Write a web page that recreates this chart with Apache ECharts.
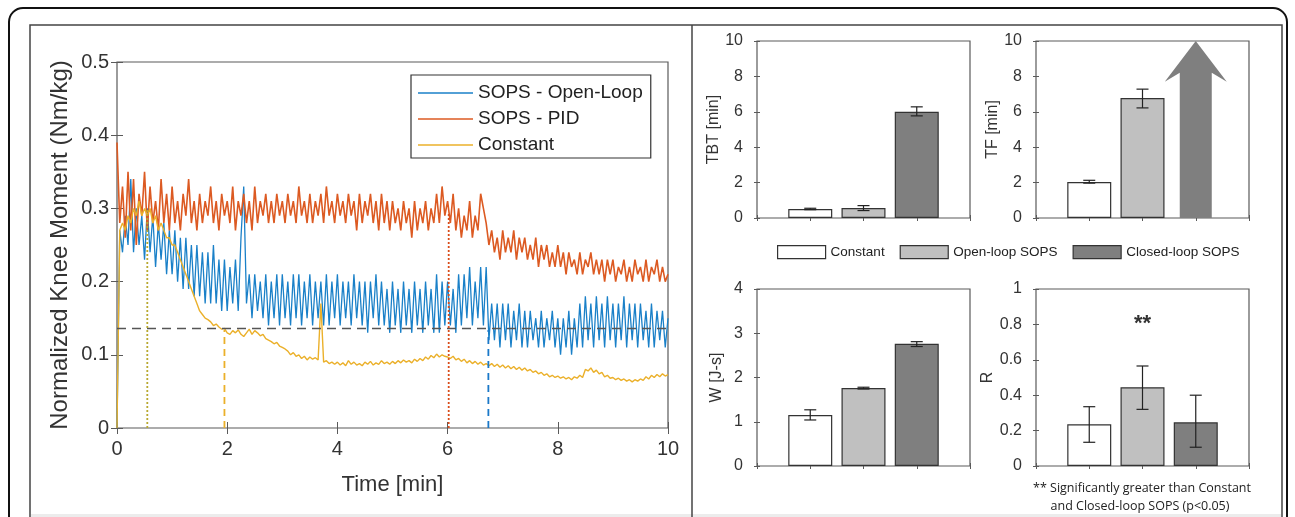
<!DOCTYPE html>
<html>
<head>
<meta charset="utf-8">
<script src="https://cdn.jsdelivr.net/npm/echarts@6/dist/echarts.min.js"></script>
<style>
  html, body { margin: 0; padding: 0; background: #fff; }
  #chart { width: 1295px; height: 517px; }
</style>
</head>
<body>
<div id="chart"></div>
<script>
// sampling step of the moment traces (min)
const timeStep = 0.05;

// SOPS - Open-Loop
const openLoopMoment = [
  0.00, 0.27, 0.24, 0.29, 0.25, 0.34, 0.24, 0.30, 0.25, 0.29, 0.23, 0.30, 0.24, 0.29, 0.22, 0.28, 0.23, 0.28, 0.21, 0.27,
  0.21, 0.27, 0.20, 0.26, 0.19, 0.26, 0.19, 0.25, 0.18, 0.25, 0.18, 0.24, 0.17, 0.24, 0.17, 0.25, 0.17, 0.23, 0.16, 0.23,
  0.16, 0.22, 0.17, 0.23, 0.16, 0.26, 0.33, 0.17, 0.21, 0.15, 0.21, 0.16, 0.20, 0.15, 0.21, 0.14, 0.20, 0.15, 0.21, 0.14,
  0.21, 0.15, 0.20, 0.14, 0.21, 0.15, 0.21, 0.14, 0.20, 0.15, 0.21, 0.14, 0.20, 0.15, 0.20, 0.14, 0.21, 0.14, 0.20, 0.15,
  0.21, 0.14, 0.20, 0.15, 0.20, 0.14, 0.21, 0.15, 0.20, 0.14, 0.20, 0.13, 0.20, 0.15, 0.21, 0.14, 0.20, 0.14, 0.19, 0.13,
  0.20, 0.14, 0.19, 0.13, 0.20, 0.14, 0.19, 0.13, 0.20, 0.14, 0.19, 0.13, 0.20, 0.14, 0.19, 0.13, 0.21, 0.13, 0.20, 0.14,
  0.20, 0.14, 0.19, 0.13, 0.21, 0.14, 0.21, 0.15, 0.22, 0.14, 0.20, 0.15, 0.22, 0.14, 0.22, 0.12, 0.17, 0.12, 0.17, 0.11,
  0.17, 0.12, 0.17, 0.11, 0.16, 0.12, 0.17, 0.11, 0.16, 0.11, 0.16, 0.12, 0.15, 0.11, 0.16, 0.11, 0.15, 0.12, 0.16, 0.11,
  0.15, 0.10, 0.15, 0.11, 0.16, 0.10, 0.15, 0.11, 0.17, 0.11, 0.18, 0.12, 0.17, 0.11, 0.18, 0.12, 0.17, 0.11, 0.18, 0.12,
  0.17, 0.11, 0.17, 0.12, 0.18, 0.11, 0.17, 0.12, 0.17, 0.11, 0.17, 0.12, 0.16, 0.11, 0.17, 0.11, 0.16, 0.12, 0.16, 0.11, 0.15
];

// SOPS - PID
const pidMoment = [
  0.39, 0.28, 0.33, 0.26, 0.35, 0.27, 0.34, 0.25, 0.32, 0.29, 0.35, 0.27, 0.33, 0.28, 0.31, 0.27, 0.34, 0.28, 0.32, 0.27,
  0.33, 0.28, 0.31, 0.27, 0.32, 0.29, 0.34, 0.28, 0.31, 0.27, 0.32, 0.28, 0.31, 0.29, 0.33, 0.28, 0.31, 0.27, 0.32, 0.29,
  0.31, 0.28, 0.33, 0.27, 0.31, 0.29, 0.32, 0.28, 0.31, 0.27, 0.33, 0.28, 0.31, 0.29, 0.32, 0.28, 0.31, 0.28, 0.32, 0.29,
  0.31, 0.28, 0.32, 0.29, 0.31, 0.28, 0.33, 0.29, 0.31, 0.28, 0.32, 0.28, 0.31, 0.29, 0.32, 0.28, 0.33, 0.29, 0.31, 0.28,
  0.32, 0.29, 0.31, 0.28, 0.32, 0.29, 0.31, 0.27, 0.32, 0.28, 0.31, 0.29, 0.32, 0.28, 0.31, 0.27, 0.32, 0.28, 0.31, 0.27,
  0.31, 0.28, 0.30, 0.27, 0.31, 0.28, 0.30, 0.26, 0.31, 0.27, 0.30, 0.28, 0.31, 0.27, 0.30, 0.28, 0.32, 0.28, 0.33, 0.29,
  0.31, 0.28, 0.32, 0.27, 0.30, 0.26, 0.29, 0.27, 0.31, 0.26, 0.29, 0.27, 0.32, 0.30, 0.28, 0.25, 0.27, 0.24, 0.26, 0.23,
  0.27, 0.24, 0.26, 0.24, 0.27, 0.23, 0.26, 0.24, 0.26, 0.23, 0.25, 0.23, 0.26, 0.22, 0.25, 0.23, 0.25, 0.22, 0.24, 0.22,
  0.25, 0.22, 0.24, 0.21, 0.24, 0.22, 0.23, 0.21, 0.24, 0.21, 0.23, 0.22, 0.24, 0.21, 0.23, 0.21, 0.23, 0.20, 0.23, 0.21,
  0.23, 0.20, 0.22, 0.21, 0.23, 0.20, 0.22, 0.20, 0.23, 0.21, 0.22, 0.20, 0.23, 0.20, 0.22, 0.21, 0.23, 0.20, 0.22, 0.20, 0.21
];

// Constant
const constantMoment = [
  0.00, 0.27, 0.28, 0.27, 0.29, 0.28, 0.30, 0.29, 0.31, 0.29, 0.30, 0.29, 0.30, 0.28, 0.29, 0.27, 0.28, 0.27, 0.26, 0.26,
  0.25, 0.25, 0.24, 0.23, 0.22, 0.21, 0.20, 0.19, 0.18, 0.17, 0.16, 0.155, 0.15, 0.148, 0.145, 0.14, 0.142, 0.138, 0.135, 0.136,
  0.13, 0.128, 0.133, 0.13, 0.134, 0.128, 0.125, 0.13, 0.135, 0.128, 0.133, 0.13, 0.126, 0.128, 0.122, 0.12, 0.118, 0.115, 0.117, 0.112,
  0.11, 0.108, 0.105, 0.10, 0.103, 0.098, 0.10, 0.095, 0.098, 0.093, 0.097, 0.094, 0.096, 0.093, 0.17, 0.09, 0.092, 0.088, 0.09, 0.087,
  0.09, 0.086, 0.089, 0.085, 0.092, 0.087, 0.09, 0.086, 0.088, 0.085, 0.09, 0.087, 0.091, 0.086, 0.089, 0.087, 0.092, 0.088, 0.09, 0.087,
  0.091, 0.088, 0.092, 0.089, 0.093, 0.09, 0.092, 0.089, 0.094, 0.091, 0.095, 0.092, 0.097, 0.094, 0.099, 0.096, 0.101, 0.097, 0.10, 0.098,
  0.097, 0.095, 0.098, 0.093, 0.095, 0.091, 0.094, 0.089, 0.092, 0.088, 0.091, 0.087, 0.09, 0.086, 0.088, 0.085, 0.088, 0.084, 0.087, 0.083,
  0.086, 0.082, 0.085, 0.081, 0.084, 0.08, 0.083, 0.079, 0.082, 0.078, 0.08, 0.076, 0.078, 0.074, 0.076, 0.072, 0.074, 0.07, 0.072, 0.069,
  0.071, 0.068, 0.07, 0.067, 0.069, 0.066, 0.07, 0.068, 0.072, 0.069, 0.08, 0.078, 0.082, 0.076, 0.079, 0.074, 0.076, 0.07, 0.072, 0.068,
  0.069, 0.066, 0.068, 0.065, 0.067, 0.064, 0.066, 0.063, 0.066, 0.064, 0.067, 0.065, 0.07, 0.067, 0.072, 0.069, 0.073, 0.07, 0.074, 0.071, 0.073
];

// threshold and event markers
const thresholdMoment = 0.136;
const markerTimes = [0.55, 1.95, 6.02, 6.74];
const markerTops = [0.30, 0.134, 0.293, 0.134];

// bar panels
const conditions = ['Constant', 'Open-loop SOPS', 'Closed-loop SOPS'];
const barPositions = [1, 2, 3];

const tbtMean = [0.51, 0.56, 6.0];
const tbtLow = [0.47, 0.42, 5.77];
const tbtHigh = [0.55, 0.70, 6.28];

const tfMean = [2.03, 6.78];
const tfLow = [1.97, 6.22];
const tfHigh = [2.13, 7.28];
const tfArrow = [3, 8.2, 7.7, 10]; // position, neck, barb, tip

const wMean = [1.15, 1.76, 2.76];
const wLow = [1.04, 1.74, 2.70];
const wHigh = [1.27, 1.78, 2.81];

const rMean = [0.236, 0.445, 0.247];
const rLow = [0.134, 0.32, 0.106];
const rHigh = [0.335, 0.565, 0.40];
const rStar = [2, 0.8];

const chart = echarts.init(document.getElementById('chart'), null, { renderer: 'canvas' });

const FONT = 'Liberation Sans';
const TXT = '#333';
const lineColors = ['#1a80c8', '#dc5a22', '#ebb02a'];
const barColors = ['#ffffff', '#c0c0c0', '#7f7f7f'];

function toPairs(arr) {
  return arr.map((v, i) => [+(i * timeStep).toFixed(2), v]);
}

// grids: 0 = time trace, 1 = TBT, 2 = TF, 3 = W, 4 = R
const grids = [
  { left: 117, top: 62, width: 551, height: 366 },
  { left: 757, top: 41, width: 213, height: 177 },
  { left: 1036, top: 41, width: 213, height: 177 },
  { left: 757, top: 289, width: 213, height: 177 },
  { left: 1036, top: 289, width: 213, height: 177 }
].map(g => Object.assign(g, { show: true, borderColor: '#5a5a5a', borderWidth: 1.2, backgroundColor: '#fff', outerBoundsMode: 'none' }));

const xAxes = [];
const yAxes = [];

function addAxes(gi, xr, yr, yName, opt) {
  const tick = { show: true, inside: true, length: opt.tickLen, lineStyle: { color: '#5a5a5a', width: 1 } };
  xAxes.push({
    type: 'value', gridIndex: gi, min: xr[0], max: xr[1], interval: xr[2],
    axisLine: { show: false }, splitLine: { show: false }, axisTick: tick,
    axisLabel: opt.xLabels ? { show: true, color: TXT, fontFamily: FONT, fontSize: opt.fontSize, margin: opt.xMargin } : { show: false },
    name: opt.xName || '', nameLocation: 'middle', nameGap: opt.xNameGap || 0,
    nameTextStyle: { color: TXT, fontFamily: FONT, fontSize: opt.nameSize }
  });
  xAxes.push({
    type: 'value', gridIndex: gi, position: 'top', min: xr[0], max: xr[1], interval: xr[2],
    axisLine: { show: false }, splitLine: { show: false }, axisTick: tick, axisLabel: { show: false }
  });
  yAxes.push({
    type: 'value', gridIndex: gi, min: yr[0], max: yr[1], interval: yr[2],
    axisLine: { show: false }, splitLine: { show: false }, axisTick: tick,
    axisLabel: { color: TXT, fontFamily: FONT, fontSize: opt.fontSize, margin: opt.yMargin },
    name: yName, nameLocation: 'middle', nameGap: opt.yNameGap,
    nameTextStyle: { color: TXT, fontFamily: FONT, fontSize: opt.yNameSize || opt.nameSize }
  });
  yAxes.push({
    type: 'value', gridIndex: gi, position: 'right', min: yr[0], max: yr[1], interval: yr[2],
    axisLine: { show: false }, splitLine: { show: false }, axisTick: tick, axisLabel: { show: false }
  });
}

addAxes(0, [0, 10, 2], [0, 0.5, 0.1], 'Normalized Knee Moment (Nm/kg)',
  { tickLen: 6, fontSize: 20, xLabels: true, xMargin: 11, yMargin: 8, xName: 'Time [min]', xNameGap: 46, yNameGap: 45, nameSize: 22, yNameSize: 24 });
addAxes(1, [0, 4, 1], [0, 10, 2], 'TBT [min]', { tickLen: 3, fontSize: 16, yMargin: 14, yNameGap: 32, nameSize: 16 });
addAxes(2, [0, 4, 1], [0, 10, 2], 'TF [min]', { tickLen: 3, fontSize: 16, yMargin: 14, yNameGap: 30, nameSize: 16 });
addAxes(3, [0, 4, 1], [0, 4, 1], 'W [J-s]', { tickLen: 3, fontSize: 16, yMargin: 14, yNameGap: 32, nameSize: 16 });
addAxes(4, [0, 4, 1], [0, 1, 0.2], 'R', { tickLen: 3, fontSize: 16, yMargin: 14, yNameGap: 30, nameSize: 16 });

function renderErrorBar(params, api) {
  const x = api.value(0);
  const lo = api.coord([x, api.value(1)]);
  const hi = api.coord([x, api.value(2)]);
  const cap = 6;
  const style = { stroke: '#222', lineWidth: 1.2 };
  return {
    type: 'group', children: [
      { type: 'line', shape: { x1: lo[0], y1: lo[1], x2: hi[0], y2: hi[1] }, style },
      { type: 'line', shape: { x1: lo[0] - cap, y1: lo[1], x2: lo[0] + cap, y2: lo[1] }, style },
      { type: 'line', shape: { x1: hi[0] - cap, y1: hi[1], x2: hi[0] + cap, y2: hi[1] }, style }
    ]
  };
}

function renderArrow(params, api) {
  const x = api.value(0);
  const base = api.coord([x, 0]);
  const neck = api.coord([x, api.value(1)]);
  const barb = api.coord([x, api.value(2)]);
  const tip = api.coord([x, api.value(3)]);
  const sw = 16, hw = 31;
  return {
    type: 'polygon',
    shape: { points: [
      [base[0] - sw, base[1]], [base[0] - sw, neck[1]], [base[0] - hw, barb[1]], [tip[0], tip[1]],
      [base[0] + hw, barb[1]], [base[0] + sw, neck[1]], [base[0] + sw, base[1]]
    ] },
    style: { fill: '#7f7f7f' }
  };
}

const series = [];

// time traces
[['SOPS - Open-Loop', openLoopMoment, 1.3], ['SOPS - PID', pidMoment, 1.6], ['Constant', constantMoment, 1.4]].forEach((s, i) => {
  series.push({
    type: 'line', name: s[0], xAxisIndex: 0, yAxisIndex: 0, data: toPairs(s[1]),
    symbol: 'none', lineStyle: { color: lineColors[i], width: s[2] }, itemStyle: { color: lineColors[i] },
    z: 2 + i, silent: true
  });
});

// threshold
series.push({
  type: 'line', xAxisIndex: 0, yAxisIndex: 0, data: [[0, thresholdMoment], [10, thresholdMoment]],
  symbol: 'none', lineStyle: { color: '#555', width: 1.6, type: [9, 6] }, z: 6, silent: true
});

// event markers
const markerStyles = [
  { color: '#b8a830', type: [2, 2] },
  { color: '#ebb02a', type: [7, 5] },
  { color: '#d94c1a', type: [2, 2] },
  { color: '#1a78c8', type: [7, 5] }
];
markerTimes.forEach((t, i) => {
  series.push({
    type: 'line', xAxisIndex: 0, yAxisIndex: 0, data: [[t, 0], [t, markerTops[i]]],
    symbol: 'none', lineStyle: { color: markerStyles[i].color, width: 1.8, type: markerStyles[i].type }, z: 6, silent: true
  });
});

// bar panels
function addBars(gi, means, lows, highs) {
  const ax = gi * 2;
  means.forEach((m, i) => {
    series.push({
      type: 'bar', name: 'bar:' + conditions[i], xAxisIndex: ax, yAxisIndex: ax,
      data: [[barPositions[i], m]], barWidth: 44, barGap: '-100%',
      itemStyle: { color: barColors[i], borderColor: '#333', borderWidth: 1.2 }, silent: true
    });
  });
  series.push({
    type: 'custom', xAxisIndex: ax, yAxisIndex: ax, renderItem: renderErrorBar, z: 5, silent: true,
    data: lows.map((l, i) => [barPositions[i], l, highs[i]])
  });
}
addBars(1, tbtMean, tbtLow, tbtHigh);
addBars(2, tfMean, tfLow, tfHigh);
addBars(3, wMean, wLow, wHigh);
addBars(4, rMean, rLow, rHigh);

series.push({
  type: 'custom', xAxisIndex: 4, yAxisIndex: 4, renderItem: renderArrow, silent: true,
  data: [tfArrow]
});

series.push({
  type: 'custom', xAxisIndex: 8, yAxisIndex: 8, silent: true, data: [rStar],
  renderItem: (params, api) => {
    const p = api.coord([api.value(0), api.value(1)]);
    return { type: 'text', x: p[0], y: p[1], style: { text: '**', fill: '#333', font: 'bold 22px ' + FONT, align: 'center', verticalAlign: 'middle' } };
  }
});

const option = {
  animation: false,
  backgroundColor: '#fff',
  grid: grids,
  xAxis: xAxes,
  yAxis: yAxes,
  legend: [
    {
      orient: 'vertical', left: 411, top: 75, selectedMode: false,
      data: ['SOPS - Open-Loop', 'SOPS - PID', 'Constant'],
      icon: 'rect', itemWidth: 55, itemHeight: 1.5, itemGap: 6,
      padding: [8, 8, 3, 7], borderColor: '#333', borderWidth: 1.2, backgroundColor: '#fff',
      textStyle: { fontFamily: FONT, fontSize: 19, color: '#222', lineHeight: 20 }
    },
    {
      orient: 'horizontal', left: 777, top: 245, selectedMode: false,
      data: conditions.map((c, i) => ({ name: 'bar:' + c, itemStyle: { color: barColors[i], borderColor: '#333', borderWidth: 1.2 } })),
      icon: 'rect', itemWidth: 48, itemHeight: 13, itemGap: 15, padding: 0,
      formatter: n => n.replace('bar:', ''),
      textStyle: { fontFamily: FONT, fontSize: 13.5, color: '#222' }
    }
  ],
  graphic: [
    { type: 'rect', shape: { x: 9, y: 8, width: 1278, height: 540, r: 14 }, style: { fill: 'none', stroke: '#111', lineWidth: 2 }, z: -1, silent: true },
    { type: 'rect', shape: { x: 30, y: 25, width: 1252, height: 520 }, style: { fill: 'none', stroke: '#444', lineWidth: 1.5 }, z: -1, silent: true },
    { type: 'line', shape: { x1: 692, y1: 25, x2: 692, y2: 517 }, style: { stroke: '#444', lineWidth: 1.5 }, z: -1, silent: true },
    { type: 'rect', shape: { x: 31, y: 514, width: 1250, height: 3 }, style: { fill: '#ececec' }, z: -2, silent: true },
    { type: 'text', x: 1142, y: 488, style: { text: '** Significantly greater than Constant', fill: '#222', font: '12.5px "Open Sans"', align: 'center', verticalAlign: 'middle' } },
    { type: 'text', x: 1140, y: 506, style: { text: 'and Closed-loop SOPS (p<0.05)', fill: '#222', font: '12.5px "Open Sans"', align: 'center', verticalAlign: 'middle' } }
  ],
  series: series
};

chart.setOption(option);
</script>
</body>
</html>
